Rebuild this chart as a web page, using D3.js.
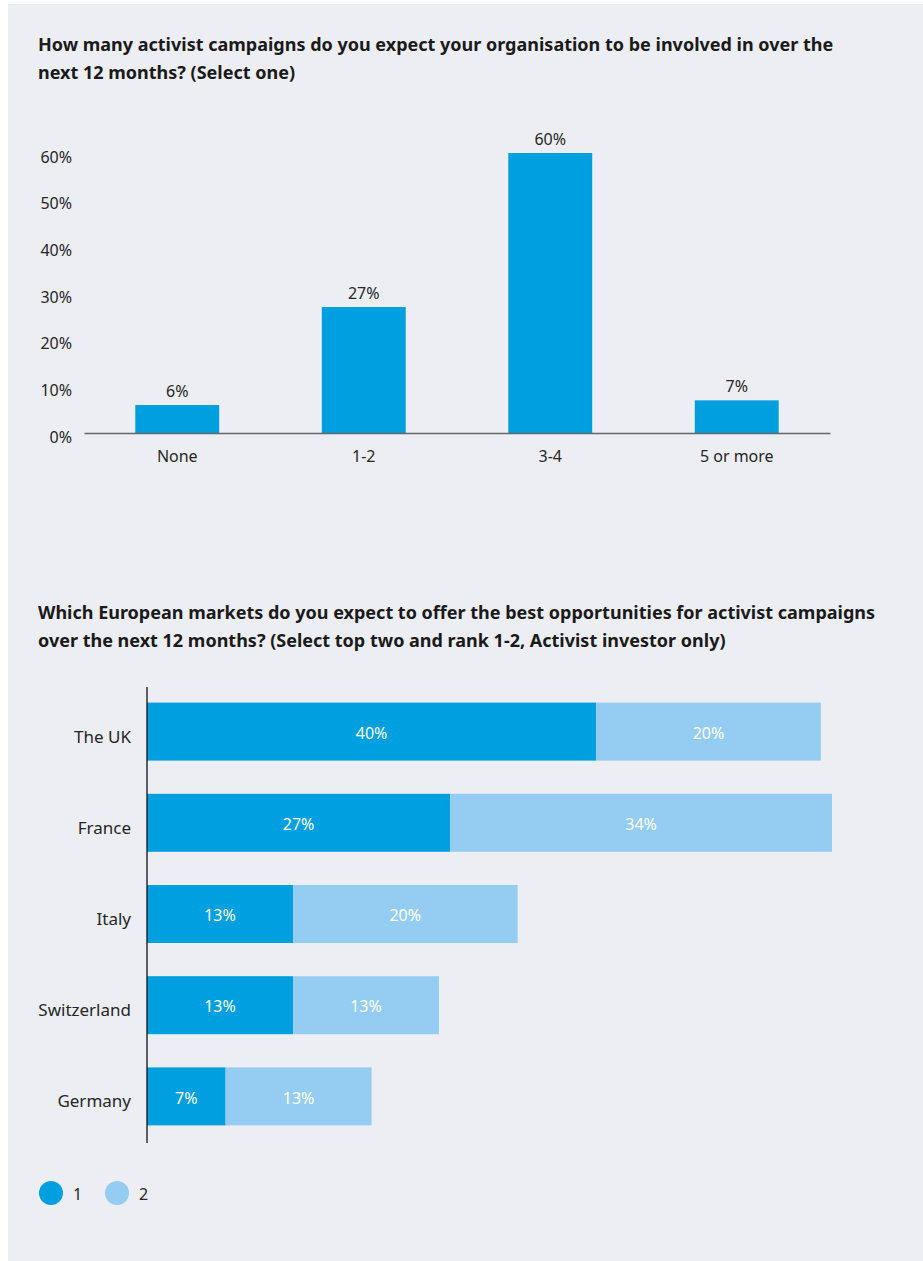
<!DOCTYPE html>
<html>
<head>
<meta charset="utf-8">
<script src="https://cdn.jsdelivr.net/npm/d3@7"></script>
<style>
  html, body { margin: 0; padding: 0; background: #ffffff; }
  svg { display: block; }
  text { font-family: "Noto Sans", "Open Sans", sans-serif; }
</style>
</head>
<body>
<svg id="chart" width="923" height="1261"></svg>
<script>
// Chart 1: expected number of activist campaigns
const campaignCategories = ["None", "1-2", "3-4", "5 or more"];
const campaignValues = [6, 27, 60, 7];
const campaignTicks = [0, 10, 20, 30, 40, 50, 60];
const campaignTitle = [
  "How many activist campaigns do you expect your organisation to be involved in over the",
  "next 12 months? (Select one)"
];

// Chart 2: best European markets, ranked 1-2
const marketCategories = ["The UK", "France", "Italy", "Switzerland", "Germany"];
const rankOneValues = [40, 27, 13, 13, 7];
const rankTwoValues = [20, 34, 20, 13, 13];
const rankLabels = ["1", "2"];
const marketTitle = [
  "Which European markets do you expect to offer the best opportunities for activist campaigns",
  "over the next 12 months? (Select top two and rank 1-2, Activist investor only)"
];

const colorRank1 = "#009fdf";
const colorRank2 = "#94cdf1";
const textColor = "#262626";

const svg = d3.select("#chart");

// panel background
svg.append("rect")
  .attr("x", 8).attr("y", 4)
  .attr("width", 915).attr("height", 1257)
  .attr("fill", "#edeef4");

function drawTitle(lines, x, y0) {
  const t = svg.append("text")
    .attr("x", x).attr("y", y0)
    .attr("fill", "#1a1a1a")
    .attr("font-size", 18)
    .attr("font-weight", "bold");
  lines.forEach((line, i) => {
    t.append("tspan").attr("x", x).attr("y", y0 + i * 28).text(line);
  });
}

// ---------- Chart 1: vertical bars ----------
drawTitle(campaignTitle, 38, 51);

const x1 = d3.scaleBand()
  .domain(campaignCategories)
  .range([84, 830])
  .paddingInner(0.55)
  .paddingOuter(0.275);

const y1 = d3.scaleLinear()
  .domain([0, 60])
  .range([433, 153]);

const g1 = svg.append("g");

// y-axis labels (no axis line, no ticks)
const yAxis1 = d3.axisLeft(y1)
  .tickValues(campaignTicks)
  .tickFormat(d => d + "%")
  .tickSize(0)
  .tickPadding(0);
const yAxisG = g1.append("g")
  .attr("transform", "translate(72,4)")
  .call(yAxis1);
yAxisG.select(".domain").remove();
yAxisG.selectAll("text")
  .attr("font-size", 16)
  .attr("fill", textColor)
  .style("font-family", "\"Noto Sans\", sans-serif");

// bars
g1.selectAll("rect.bar")
  .data(campaignValues)
  .join("rect")
  .attr("class", "bar")
  .attr("x", (d, i) => x1(campaignCategories[i]))
  .attr("y", d => y1(d))
  .attr("width", x1.bandwidth())
  .attr("height", d => y1(0) - y1(d))
  .attr("fill", colorRank1);

// value labels
g1.selectAll("text.val")
  .data(campaignValues)
  .join("text")
  .attr("class", "val")
  .attr("x", (d, i) => x1(campaignCategories[i]) + x1.bandwidth() / 2)
  .attr("y", d => y1(d) - 8)
  .attr("text-anchor", "middle")
  .attr("font-size", 16)
  .attr("fill", textColor)
  .text(d => d + "%");

// x-axis baseline and category labels
const xAxis1 = d3.axisBottom(x1).tickSize(0).tickPadding(0);
const xAxisG = g1.append("g")
  .attr("transform", "translate(0,433)")
  .call(xAxis1);
xAxisG.select(".domain")
  .attr("stroke", "#666")
  .attr("stroke-width", 1.5);
xAxisG.selectAll("text")
  .attr("font-size", 16)
  .attr("fill", textColor)
  .attr("dy", "0")
  .attr("y", 29)
  .style("font-family", "\"Noto Sans\", sans-serif");

// ---------- Chart 2: stacked horizontal bars ----------
drawTitle(marketTitle, 38, 619);

const y2 = d3.scaleBand()
  .domain(marketCategories)
  .range([686, 1142])
  .paddingInner(0.364)
  .paddingOuter(0.182);

const x2 = d3.scaleLinear()
  .domain([0, 61])
  .range([147, 832]);

const marketRows = marketCategories.map((c, i) => ({
  market: c, r1: rankOneValues[i], r2: rankTwoValues[i]
}));
const stacked = d3.stack().keys(["r1", "r2"])(marketRows);
const colors = [colorRank1, colorRank2];

const g2 = svg.append("g");
stacked.forEach((layer, li) => {
  const lg = g2.append("g");
  lg.selectAll("rect")
    .data(layer)
    .join("rect")
    .attr("x", d => x2(d[0]))
    .attr("y", d => y2(d.data.market))
    .attr("width", d => x2(d[1]) - x2(d[0]))
    .attr("height", y2.bandwidth())
    .attr("fill", colors[li]);
  lg.selectAll("text")
    .data(layer)
    .join("text")
    .attr("x", d => (x2(d[0]) + x2(d[1])) / 2)
    .attr("y", d => y2(d.data.market) + y2.bandwidth() / 2 + 1.5)
    .attr("dy", "0.35em")
    .attr("text-anchor", "middle")
    .attr("font-size", 16)
    .attr("fill", "#ffffff")
    .text(d => (d[1] - d[0]) + "%");
});

// category axis
const yAxis2 = d3.axisLeft(y2).tickSize(0).tickPadding(16);
const yAxis2G = g2.append("g")
  .attr("transform", "translate(147,0)")
  .call(yAxis2);
yAxis2G.select(".domain")
  .attr("d", "M0,687V1143")
  .attr("stroke", "#111")
  .attr("stroke-width", 1.3);
yAxis2G.selectAll("text")
  .attr("font-size", 17)
  .attr("fill", textColor)
  .attr("y", 5.5)
  .style("font-family", "\"Noto Sans\", sans-serif");

// legend
const legend = svg.append("g").attr("transform", "translate(0,1193)");
rankLabels.forEach((lab, i) => {
  const cx = 51 + i * 66;
  legend.append("circle")
    .attr("cx", cx).attr("cy", 0).attr("r", 12)
    .attr("fill", colors[i]);
  legend.append("text")
    .attr("x", cx + 22).attr("y", 1)
    .attr("dy", "0.35em")
    .attr("font-size", 16)
    .attr("fill", textColor)
    .text(lab);
});
</script>
</body>
</html>
